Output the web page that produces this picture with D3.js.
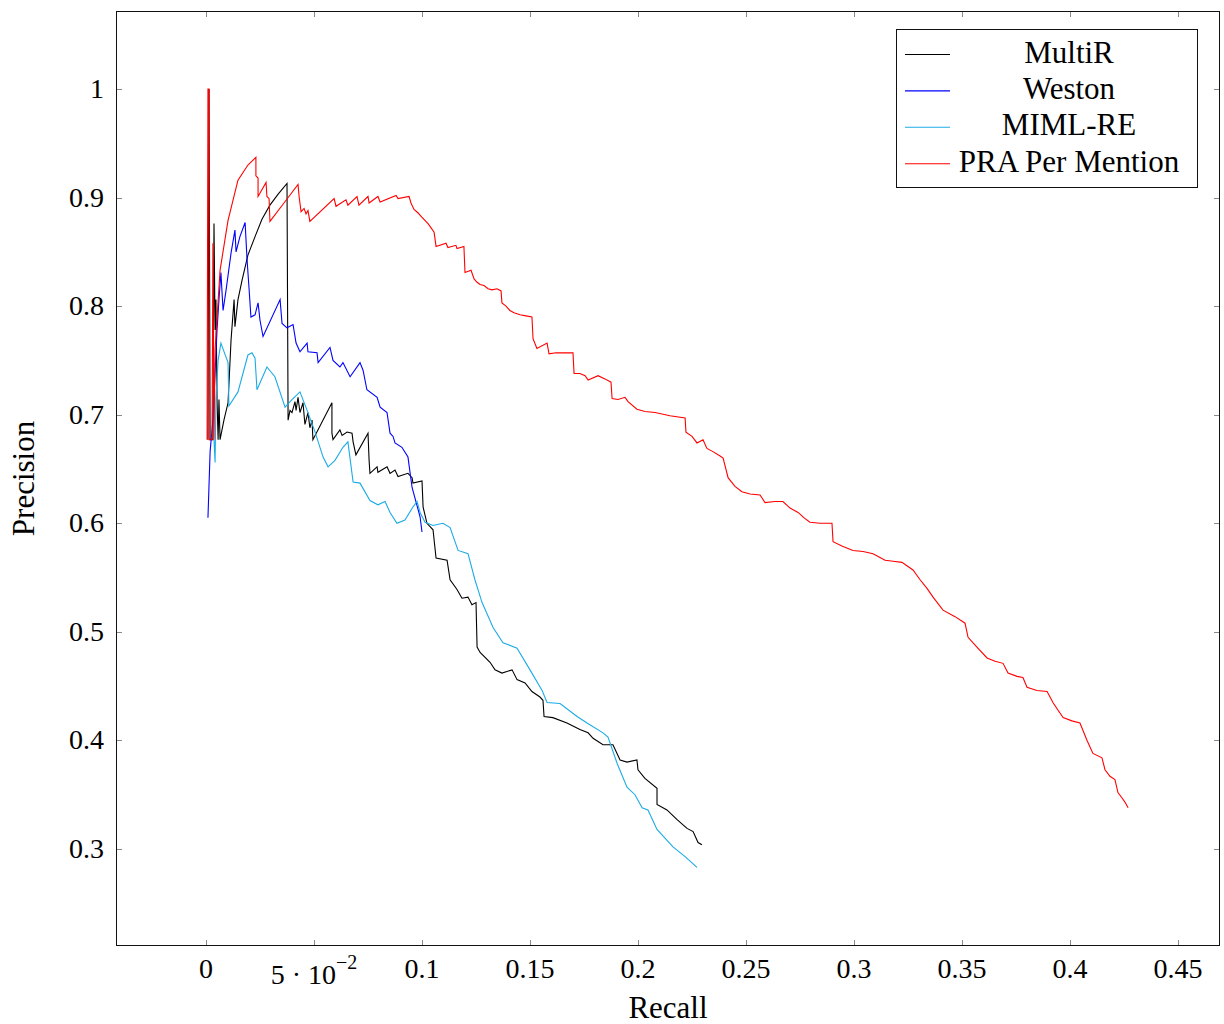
<!DOCTYPE html>
<html lang="en">
<head>
    <meta charset="UTF-8">
    <title>Precision / Recall</title>
    <script src="https://d3js.org/d3.v7.min.js"></script>
    <style>
        body { margin: 0; background: white; }
        svg { display: block; font-family: "Liberation Serif", "DejaVu Serif", serif; }
        svg text { fill: black; }
    </style>
</head>
<body>
<svg width="1224" height="1024"></svg>
<script>
    // [recall, precision] pairs
    const multiR = [
        [0.0009,0.677],[0.0014,1.0],[0.0019,0.677],[0.0032,0.677],[0.0037,0.876],[0.0042,0.778],
        [0.0046,0.806],[0.0051,0.714],[0.0056,0.677],[0.0060,0.714],[0.0065,0.677],[0.0083,0.695],
        [0.0102,0.711],[0.0116,0.769],[0.0130,0.806],[0.0134,0.781],[0.0148,0.806],[0.0167,0.824],
        [0.0194,0.847],[0.0227,0.864],[0.0259,0.880],[0.0296,0.893],[0.0333,0.903],[0.0375,0.913],
        [0.0380,0.695],[0.0389,0.704],[0.0398,0.702],[0.0412,0.712],[0.0417,0.704],[0.0426,0.716],
        [0.0435,0.702],[0.0449,0.711],[0.0458,0.691],[0.0472,0.702],[0.0481,0.688],[0.0491,0.695],
        [0.0495,0.677],[0.0583,0.711],[0.0583,0.683],[0.0588,0.677],[0.0620,0.686],[0.0630,0.681],
        [0.0653,0.684],[0.0676,0.683],[0.0681,0.675],[0.0694,0.663],[0.0750,0.683],[0.0755,0.658],
        [0.0759,0.646],[0.0792,0.652],[0.0796,0.647],[0.0838,0.652],[0.0852,0.646],[0.0875,0.649],
        [0.0889,0.643],[0.0935,0.646],[0.0954,0.642],[0.0958,0.637],[0.1000,0.639],[0.1005,0.615],
        [0.1023,0.600],[0.1051,0.594],[0.1065,0.568],[0.1116,0.566],[0.1130,0.548],[0.1162,0.539],
        [0.1185,0.531],[0.1213,0.532],[0.1231,0.525],[0.1250,0.527],[0.1255,0.486],[0.1269,0.481],
        [0.1315,0.472],[0.1338,0.465],[0.1370,0.462],[0.1417,0.465],[0.1440,0.456],[0.1477,0.453],
        [0.1509,0.445],[0.1546,0.440],[0.1560,0.437],[0.1565,0.422],[0.1606,0.421],[0.1671,0.416],
        [0.1731,0.410],[0.1769,0.407],[0.1792,0.402],[0.1838,0.396],[0.1884,0.396],[0.1917,0.382],
        [0.1949,0.380],[0.1995,0.382],[0.2000,0.373],[0.2032,0.365],[0.2088,0.356],[0.2088,0.341],
        [0.2134,0.336],[0.2181,0.327],[0.2227,0.319],[0.2255,0.316],[0.2278,0.306],[0.2296,0.304]
    ];

    const weston = [
        [0.0009,0.605],[0.0019,0.666],[0.0032,0.695],[0.0051,0.778],[0.0060,0.806],[0.0069,0.831],
        [0.0079,0.796],[0.0093,0.815],[0.0116,0.849],[0.0134,0.870],[0.0139,0.850],[0.0157,0.864],
        [0.0181,0.877],[0.0190,0.843],[0.0199,0.817],[0.0208,0.790],[0.0227,0.792],[0.0241,0.803],
        [0.0250,0.787],[0.0264,0.772],[0.0343,0.806],[0.0352,0.784],[0.0375,0.780],[0.0403,0.783],
        [0.0417,0.766],[0.0435,0.758],[0.0468,0.766],[0.0472,0.758],[0.0514,0.757],[0.0519,0.748],
        [0.0574,0.762],[0.0588,0.750],[0.0620,0.744],[0.0634,0.748],[0.0667,0.735],[0.0713,0.748],
        [0.0727,0.741],[0.0745,0.723],[0.0792,0.716],[0.0806,0.707],[0.0838,0.702],[0.0852,0.683],
        [0.0866,0.680],[0.0875,0.674],[0.0907,0.670],[0.0935,0.661],[0.0954,0.633],[0.0991,0.606],
        [0.1000,0.592]
    ];

    const mimlRE = [
        [0.0037,0.677],[0.0042,0.656],[0.0046,0.714],[0.0056,0.750],[0.0069,0.766],[0.0102,0.748],
        [0.0106,0.708],[0.0148,0.721],[0.0194,0.755],[0.0213,0.757],[0.0227,0.752],[0.0236,0.723],
        [0.0282,0.744],[0.0319,0.735],[0.0366,0.707],[0.0398,0.714],[0.0435,0.721],[0.0468,0.704],
        [0.0505,0.684],[0.0542,0.661],[0.0565,0.652],[0.0597,0.658],[0.0634,0.670],[0.0657,0.675],
        [0.0681,0.638],[0.0713,0.637],[0.0759,0.621],[0.0796,0.617],[0.0829,0.620],[0.0852,0.610],
        [0.0884,0.600],[0.0921,0.603],[0.0958,0.615],[0.0977,0.620],[0.0991,0.610],[0.1014,0.601],
        [0.1051,0.598],[0.1097,0.600],[0.1130,0.596],[0.1167,0.575],[0.1213,0.572],[0.1245,0.548],
        [0.1278,0.527],[0.1329,0.504],[0.1375,0.490],[0.1440,0.485],[0.1500,0.465],[0.1556,0.446],
        [0.1579,0.435],[0.1639,0.434],[0.1718,0.422],[0.1764,0.416],[0.1838,0.407],[0.1861,0.403],
        [0.1903,0.379],[0.1949,0.357],[0.1986,0.350],[0.2019,0.338],[0.2046,0.336],[0.2088,0.318],
        [0.2162,0.302],[0.2218,0.293],[0.2273,0.283]
    ];

    const praPerMention = [
        [0.0005,0.677],[0.0009,1.0],[0.0014,1.0],[0.0014,0.677],[0.0028,0.677],[0.0032,0.858],
        [0.0037,0.677],[0.0042,0.760],[0.0065,0.833],[0.0102,0.879],[0.0148,0.916],[0.0194,0.930],
        [0.0231,0.937],[0.0231,0.920],[0.0241,0.918],[0.0241,0.901],[0.0278,0.914],[0.0282,0.901],
        [0.0292,0.899],[0.0296,0.878],[0.0361,0.895],[0.0426,0.912],[0.0431,0.901],[0.0440,0.887],
        [0.0454,0.890],[0.0463,0.885],[0.0472,0.888],[0.0481,0.878],[0.0593,0.899],[0.0602,0.892],
        [0.0648,0.898],[0.0657,0.893],[0.0699,0.901],[0.0708,0.893],[0.0750,0.901],[0.0755,0.895],
        [0.0796,0.901],[0.0806,0.896],[0.0880,0.902],[0.0889,0.899],[0.0940,0.901],[0.0949,0.895],
        [0.0963,0.889],[0.0981,0.886],[0.0995,0.883],[0.1009,0.880],[0.1028,0.876],[0.1046,0.871],
        [0.1056,0.868],[0.1065,0.855],[0.1111,0.858],[0.1120,0.854],[0.1157,0.856],[0.1162,0.853],
        [0.1194,0.855],[0.1199,0.831],[0.1227,0.833],[0.1241,0.825],[0.1255,0.822],[0.1269,0.820],
        [0.1287,0.819],[0.1306,0.816],[0.1324,0.815],[0.1347,0.816],[0.1366,0.814],[0.1370,0.803],
        [0.1389,0.800],[0.1407,0.796],[0.1426,0.794],[0.1454,0.792],[0.1481,0.791],[0.1509,0.790],
        [0.1514,0.770],[0.1532,0.761],[0.1579,0.766],[0.1588,0.756],[0.1620,0.757],[0.1699,0.757],
        [0.1704,0.738],[0.1731,0.738],[0.1755,0.736],[0.1769,0.732],[0.1815,0.736],[0.1847,0.733],
        [0.1875,0.730],[0.1880,0.715],[0.1907,0.714],[0.1940,0.716],[0.1954,0.712],[0.1995,0.705],
        [0.2032,0.703],[0.2079,0.702],[0.2148,0.699],[0.2218,0.697],[0.2222,0.684],[0.2250,0.680],
        [0.2273,0.674],[0.2301,0.677],[0.2319,0.669],[0.2347,0.666],[0.2380,0.662],[0.2394,0.660],
        [0.2417,0.642],[0.2449,0.634],[0.2481,0.629],[0.2519,0.627],[0.2565,0.626],[0.2588,0.619],
        [0.2634,0.620],[0.2671,0.620],[0.2704,0.614],[0.2741,0.610],[0.2769,0.605],[0.2796,0.601],
        [0.2843,0.600],[0.2898,0.600],[0.2903,0.583],[0.2944,0.579],[0.2995,0.575],[0.3042,0.574],
        [0.3088,0.572],[0.3144,0.566],[0.3181,0.565],[0.3222,0.564],[0.3273,0.557],[0.3306,0.548],
        [0.3338,0.540],[0.3366,0.532],[0.3412,0.520],[0.3468,0.514],[0.3514,0.508],[0.3528,0.495],
        [0.3569,0.486],[0.3616,0.476],[0.3653,0.473],[0.3690,0.471],[0.3713,0.462],[0.3755,0.459],
        [0.3782,0.458],[0.3801,0.449],[0.3847,0.446],[0.3894,0.445],[0.3921,0.435],[0.3944,0.428],
        [0.3968,0.421],[0.4009,0.418],[0.4046,0.416],[0.4079,0.400],[0.4106,0.388],[0.4148,0.384],
        [0.4162,0.373],[0.4185,0.367],[0.4208,0.364],[0.4222,0.352],[0.4241,0.347],[0.4255,0.343],
        [0.4269,0.338]
    ];

    const seriesNames = ["MultiR", "Weston", "MIML-RE", "PRA Per Mention"];
    const seriesColors = ["#000000", "#0000ff", "#1cabe6", "#ff0000"];
    const seriesData = [multiR, weston, mimlRE, praPerMention];

    const xTicks = [0, 0.05, 0.1, 0.15, 0.2, 0.25, 0.3, 0.35, 0.4, 0.45];
    const yTicks = [0.3, 0.4, 0.5, 0.6, 0.7, 0.8, 0.9, 1];

    const serif = '"Liberation Serif", "DejaVu Serif", serif';
    const svg = d3.select("svg");
    const plotLeft = 116, plotRight = 1220, plotTop = 11, plotBottom = 946;

    const x = d3.scaleLinear().domain([-0.04167, 0.46944]).range([plotLeft, plotRight]);
    const y = d3.scaleLinear().domain([0.21066, 1.07184]).range([plotBottom, plotTop]);

    // clip to plot area
    svg.append("clipPath").attr("id", "plotClip")
        .append("rect").attr("x", plotLeft).attr("y", plotTop)
        .attr("width", plotRight - plotLeft).attr("height", plotBottom - plotTop);

    // inward ticks on all four sides
    const tickLen = 6;
    const ticks = svg.append("g").attr("stroke", "#8a8a8a").attr("stroke-width", 1);
    xTicks.forEach(v => {
        const px = Math.round(x(v)) + 0.5;
        ticks.append("line").attr("x1", px).attr("x2", px).attr("y1", plotBottom).attr("y2", plotBottom - tickLen);
        ticks.append("line").attr("x1", px).attr("x2", px).attr("y1", plotTop).attr("y2", plotTop + tickLen);
    });
    yTicks.forEach(v => {
        const py = Math.round(y(v)) + 0.5;
        ticks.append("line").attr("x1", plotLeft).attr("x2", plotLeft + tickLen).attr("y1", py).attr("y2", py);
        ticks.append("line").attr("x1", plotRight).attr("x2", plotRight - tickLen).attr("y1", py).attr("y2", py);
    });

    // lines
    const line = d3.line().x(d => x(d[0])).y(d => y(d[1]));
    const plot = svg.append("g").attr("clip-path", "url(#plotClip)");
    seriesData.forEach((data, i) => {
        plot.append("path")
            .datum(data)
            .attr("fill", "none")
            .attr("stroke", seriesColors[i])
            .attr("stroke-width", 1.1)
            .attr("stroke-linejoin", "miter")
            .attr("d", line);
    });

    // frame
    svg.append("rect")
        .attr("x", plotLeft + 0.5).attr("y", plotTop + 0.5)
        .attr("width", plotRight - plotLeft - 1).attr("height", plotBottom - plotTop - 1)
        .attr("fill", "none").attr("stroke", "#111").attr("stroke-width", 1);

    // x tick labels
    xTicks.forEach(v => {
        const t = svg.append("text")
            .attr("font-family", serif).attr("font-size", 28)
            .attr("x", x(v)).attr("text-anchor", "middle");
        if (v === 0.05) {
            t.attr("y", 984);
            t.append("tspan").text("5 \u00b7 10");
            t.append("tspan").attr("dy", -15).attr("font-size", 20).text("\u22122");
        } else {
            t.attr("y", 978).text(d3.format("")(v));
        }
    });

    // y tick labels
    yTicks.forEach(v => {
        svg.append("text")
            .attr("font-family", serif).attr("font-size", 28)
            .attr("x", 104).attr("y", y(v) + 9)
            .attr("text-anchor", "end")
            .text(d3.format("")(v));
    });

    // axis titles
    svg.append("text")
        .attr("font-family", serif).attr("font-size", 31)
        .attr("x", (plotLeft + plotRight) / 2).attr("y", 1018)
        .attr("text-anchor", "middle").text("Recall");
    svg.append("text")
        .attr("font-family", serif).attr("font-size", 31)
        .attr("transform", "translate(34," + ((plotTop + plotBottom) / 2) + ") rotate(-90)")
        .attr("text-anchor", "middle").text("Precision");

    // legend
    const legend = svg.append("g");
    legend.append("rect")
        .attr("x", 896.5).attr("y", 29.5).attr("width", 301).attr("height", 158)
        .attr("fill", "white").attr("stroke", "#111").attr("stroke-width", 1);
    seriesNames.forEach((name, i) => {
        const ly = 54.5 + i * 36.4;
        legend.append("line")
            .attr("x1", 905).attr("x2", 950).attr("y1", ly).attr("y2", ly)
            .attr("stroke", seriesColors[i]).attr("stroke-width", 1.1);
        legend.append("text")
            .attr("font-family", serif).attr("font-size", 31)
            .attr("x", 1069).attr("y", ly + 8)
            .attr("text-anchor", "middle").text(name);
    });
</script>
</body>
</html>
